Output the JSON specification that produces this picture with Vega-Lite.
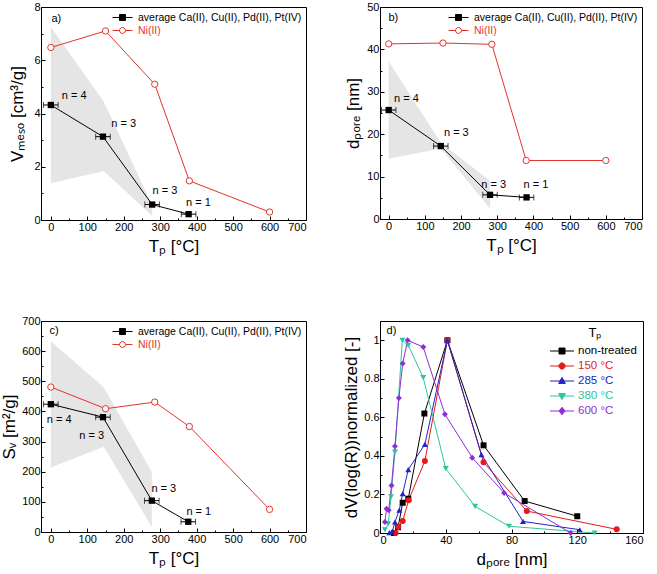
{
  "$schema": "https://vega.github.io/schema/vega-lite/v6.json",
  "padding": {"left": 0, "top": 0, "right": 5, "bottom": 5},
  "background": "white",
  "config": {
    "font": "Liberation Sans",
    "view": {"stroke": "black", "strokeWidth": 1},
    "axis": {"grid": false, "domainColor": "black", "tickColor": "black", "labelColor": "black", "titleColor": "black", "labelFontSize": 11, "titleFontSize": 17, "titleFontWeight": "normal", "tickSize": -4, "labelPadding": 5, "labelFont": "Liberation Sans", "titleFont": "Liberation Sans"},
    "axisBottom": {"titlePadding": 6},
    "legend": {"labelFont": "Liberation Sans", "labelFontSize": 11, "titleFont": "Liberation Sans", "labelLimit": 0},
    "text": {"font": "Liberation Sans", "fontSize": 11}
  },
  "resolve": {"scale": {"shape": "independent", "fill": "independent", "stroke": "independent"}},
  "datasets": {
    "avgA": [{"x": 0, "y": 4.32, "xl": -20, "xh": 20}, {"x": 143, "y": 3.13, "xl": 123, "xh": 163}, {"x": 278, "y": 0.58, "xl": 258, "xh": 298}, {"x": 378, "y": 0.22, "xl": 358, "xh": 398}],
    "niA": [{"x": 0, "y": 6.48}, {"x": 150, "y": 7.1}, {"x": 285, "y": 5.1}, {"x": 380, "y": 1.47}, {"x": 600, "y": 0.3}],
    "bandA": [{"x": 0, "u": 7.25, "l": 1.38}, {"x": 145, "u": 4.45, "l": 1.84}, {"x": 278, "u": 0.55, "l": 0.15}],
    "annA": [{"x": 64, "y": 4.65, "t": "n = 4"}, {"x": 200, "y": 3.59, "t": "n = 3"}, {"x": 313, "y": 1.1, "t": "n = 3"}, {"x": 405, "y": 0.63, "t": "n = 1"}, {"x": 15, "y": 7.56, "t": "a)"}],
    "avgB": [{"x": 0, "y": 25.7, "xl": -20, "xh": 20}, {"x": 144, "y": 17.2, "xl": 124, "xh": 164}, {"x": 280, "y": 5.7, "xl": 260, "xh": 300}, {"x": 381, "y": 5.1, "xl": 361, "xh": 401}],
    "niB": [{"x": 0, "y": 41.3}, {"x": 150, "y": 41.5}, {"x": 285, "y": 41.2}, {"x": 380, "y": 13.8}, {"x": 600, "y": 13.8}],
    "bandB": [{"x": 0, "u": 37.2, "l": 14.2}, {"x": 144, "u": 18.0, "l": 16.6}, {"x": 280, "u": 9.0, "l": 2.5}],
    "annB": [{"x": 49, "y": 28.2, "t": "n = 4"}, {"x": 187, "y": 20.2, "t": "n = 3"}, {"x": 290, "y": 8.0, "t": "n = 3"}, {"x": 407, "y": 8.0, "t": "n = 1"}, {"x": 13, "y": 47.4, "t": "b)"}],
    "avgC": [{"x": 0, "y": 424, "xl": -20, "xh": 20}, {"x": 143, "y": 381, "xl": 123, "xh": 163}, {"x": 277, "y": 104, "xl": 257, "xh": 297}, {"x": 377, "y": 34, "xl": 357, "xh": 397}],
    "niC": [{"x": 0, "y": 481}, {"x": 150, "y": 409}, {"x": 285, "y": 431}, {"x": 380, "y": 350}, {"x": 600, "y": 75}],
    "bandC": [{"x": 0, "u": 633, "l": 214}, {"x": 145, "u": 480, "l": 283}, {"x": 277, "u": 199, "l": 17}],
    "annC": [{"x": 23, "y": 370, "t": "n = 4"}, {"x": 112, "y": 319, "t": "n = 3"}, {"x": 310, "y": 144, "t": "n = 3"}, {"x": 406, "y": 66, "t": "n = 1"}, {"x": 9, "y": 668, "t": "c)"}],
    "psd": [
      {"s": "non-treated", "x": 8.5, "y": 0.0}, {"s": "non-treated", "x": 11, "y": 0.03}, {"s": "non-treated", "x": 13.8, "y": 0.157}, {"s": "non-treated", "x": 17.2, "y": 0.178}, {"s": "non-treated", "x": 27, "y": 0.62}, {"s": "non-treated", "x": 41, "y": 1.0}, {"s": "non-treated", "x": 63, "y": 0.455}, {"s": "non-treated", "x": 88, "y": 0.166}, {"s": "non-treated", "x": 120, "y": 0.087},
      {"s": "150 °C", "x": 9.5, "y": 0.0}, {"s": "150 °C", "x": 11.1, "y": 0.031}, {"s": "150 °C", "x": 13.8, "y": 0.062}, {"s": "150 °C", "x": 17.4, "y": 0.17}, {"s": "150 °C", "x": 27.3, "y": 0.374}, {"s": "150 °C", "x": 41, "y": 1.0}, {"s": "150 °C", "x": 63, "y": 0.367}, {"s": "150 °C", "x": 89.3, "y": 0.114}, {"s": "150 °C", "x": 144, "y": 0.019},
      {"s": "285 °C", "x": 5.7, "y": 0.002}, {"s": "285 °C", "x": 7.5, "y": 0.008}, {"s": "285 °C", "x": 9.1, "y": 0.057}, {"s": "285 °C", "x": 11.7, "y": 0.118}, {"s": "285 °C", "x": 13.8, "y": 0.204}, {"s": "285 °C", "x": 17.2, "y": 0.329}, {"s": "285 °C", "x": 27.3, "y": 0.46}, {"s": "285 °C", "x": 41, "y": 1.0}, {"s": "285 °C", "x": 61.7, "y": 0.407}, {"s": "285 °C", "x": 87, "y": 0.06}, {"s": "285 °C", "x": 121.5, "y": 0.017},
      {"s": "380 °C", "x": 3, "y": 0.017}, {"s": "380 °C", "x": 5, "y": 0.048}, {"s": "380 °C", "x": 6.7, "y": 0.187}, {"s": "380 °C", "x": 9.1, "y": 0.42}, {"s": "380 °C", "x": 13.6, "y": 1.0}, {"s": "380 °C", "x": 17.2, "y": 0.974}, {"s": "380 °C", "x": 26.3, "y": 0.806}, {"s": "380 °C", "x": 40, "y": 0.334}, {"s": "380 °C", "x": 57.9, "y": 0.138}, {"s": "380 °C", "x": 78.5, "y": 0.035}, {"s": "380 °C", "x": 130.6, "y": 0.0},
      {"s": "600 °C", "x": 3, "y": 0.057}, {"s": "600 °C", "x": 4, "y": 0.126}, {"s": "600 °C", "x": 5.3, "y": 0.118}, {"s": "600 °C", "x": 7, "y": 0.247}, {"s": "600 °C", "x": 9.1, "y": 0.45}, {"s": "600 °C", "x": 11.5, "y": 0.7}, {"s": "600 °C", "x": 13.8, "y": 0.879}, {"s": "600 °C", "x": 16.8, "y": 1.0}, {"s": "600 °C", "x": 26.3, "y": 0.965}, {"s": "600 °C", "x": 39.5, "y": 0.616}, {"s": "600 °C", "x": 56.1, "y": 0.391}, {"s": "600 °C", "x": 75.5, "y": 0.208}, {"s": "600 °C", "x": 116, "y": 0.0}
    ],
    "annD": [{"x": 7, "y": 1.05, "t": "d)"}]
  },
  "columns": 2,
  "bounds": "flush",
  "spacing": {"row": 101, "column": 74},
  "concat": [
    {
      "width": 265, "height": 213,
      "resolve": {"axis": {"x": "independent", "y": "independent"}},
      "layer": [
        {"data": {"name": "bandA"}, "mark": {"type": "area", "color": "#dcdcdc", "opacity": 0.75},
         "encoding": {"x": {"field": "x", "type": "quantitative", "scale": {"domain": [-27, 700], "nice": false}, "axis": {"orient": "bottom", "values": [50, 150, 250, 350, 450, 550, 650], "labels": false, "domain": false, "tickSize": -2, "title": null}},
                      "y": {"field": "u", "type": "quantitative", "scale": {"domain": [0, 8], "nice": false}, "axis": {"orient": "left", "values": [1, 3, 5, 7], "labels": false, "domain": false, "tickSize": -2, "title": null}},
                      "y2": {"field": "l"}}},
        {"data": {"name": "avgA"}, "mark": {"type": "line", "color": "black", "strokeWidth": 1},
         "encoding": {"x": {"field": "x", "type": "quantitative", "axis": {"orient": "bottom", "values": [0, 100, 200, 300, 400, 500, 600, 700], "title": "Tₚ [°C]"}},
                      "y": {"field": "y", "type": "quantitative", "axis": {"orient": "left", "values": [0, 2, 4, 6, 8], "title": "Vₘₑₛₒ [cm³/g]", "titlePadding": 7}}}},
        {"data": {"name": "avgA"}, "mark": {"type": "errorbar", "ticks": {"size": 6}, "color": "black"},
         "encoding": {"x": {"field": "xl", "type": "quantitative", "axis": null}, "x2": {"field": "xh"}, "y": {"field": "y", "type": "quantitative", "axis": null}}},
        {"data": {"name": "avgA"}, "mark": {"type": "point", "shape": "square", "filled": true, "color": "black", "size": 40, "opacity": 1},
         "encoding": {"x": {"field": "x", "type": "quantitative", "axis": null}, "y": {"field": "y", "type": "quantitative", "axis": null}}},
        {"data": {"name": "niA"}, "mark": {"type": "line", "color": "#e3342a", "strokeWidth": 1},
         "encoding": {"x": {"field": "x", "type": "quantitative", "axis": null}, "y": {"field": "y", "type": "quantitative", "axis": null}}},
        {"data": {"name": "niA"}, "mark": {"type": "point", "shape": "circle", "fill": "white", "stroke": "#e3342a", "strokeWidth": 1, "size": 40, "opacity": 1, "filled": false},
         "encoding": {"x": {"field": "x", "type": "quantitative", "axis": null}, "y": {"field": "y", "type": "quantitative", "axis": null}}},
        {"data": {"name": "annA"}, "mark": {"type": "text", "fontSize": 11, "color": "black"},
         "encoding": {"x": {"field": "x", "type": "quantitative", "axis": null}, "y": {"field": "y", "type": "quantitative", "axis": null}, "text": {"field": "t"}}},
        {"data": {"values": []}, "mark": {"type": "point", "opacity": 1},
         "encoding": {
           "shape": {"field": "s", "type": "nominal", "scale": {"domain": ["average Ca(II), Cu(II), Pd(II), Pt(IV)", "Ni(II)"], "range": ["M-1.67,0L1.67,0M-0.5,-0.5L0.5,-0.5L0.5,0.5L-0.5,0.5Z", "M-1.67,0L-0.5,0M0.5,0L1.67,0M0.5,0L0.43,0.25L0.25,0.43L0,0.5L-0.25,0.43L-0.43,0.25L-0.5,0L-0.43,-0.25L-0.25,-0.43L0,-0.5L0.25,-0.43L0.43,-0.25Z"]},
                     "legend": {"title": null, "orient": "top-right", "offset": 4, "padding": 0, "symbolSize": 144, "symbolStrokeWidth": 1, "labelFontSize": 10.5, "rowPadding": 1, "labelOffset": 9, "labelColor": {"expr": "datum.value == 'Ni(II)' ? '#e3342a' : 'black'"}}},
           "fill": {"field": "s", "type": "nominal", "scale": {"domain": ["average Ca(II), Cu(II), Pd(II), Pt(IV)", "Ni(II)"], "range": ["black", "white"]}, "legend": {"title": null, "orient": "top-right", "offset": 4, "padding": 0, "symbolSize": 144, "symbolStrokeWidth": 1, "labelFontSize": 10.5, "rowPadding": 1, "labelOffset": 9, "labelColor": {"expr": "datum.value == 'Ni(II)' ? '#e3342a' : 'black'"}}},
           "stroke": {"field": "s", "type": "nominal", "scale": {"domain": ["average Ca(II), Cu(II), Pd(II), Pt(IV)", "Ni(II)"], "range": ["black", "#e3342a"]}, "legend": {"title": null, "orient": "top-right", "offset": 4, "padding": 0, "symbolSize": 144, "symbolStrokeWidth": 1, "labelFontSize": 10.5, "rowPadding": 1, "labelOffset": 9, "labelColor": {"expr": "datum.value == 'Ni(II)' ? '#e3342a' : 'black'"}}}
         }}
      ]
    },
    {
      "width": 262, "height": 212,
      "resolve": {"axis": {"x": "independent", "y": "independent"}},
      "layer": [
        {"data": {"name": "bandB"}, "mark": {"type": "area", "color": "#dcdcdc", "opacity": 0.75},
         "encoding": {"x": {"field": "x", "type": "quantitative", "scale": {"domain": [-24, 700], "nice": false}, "axis": {"orient": "bottom", "values": [50, 150, 250, 350, 450, 550, 650], "labels": false, "domain": false, "tickSize": -2, "title": null}},
                      "y": {"field": "u", "type": "quantitative", "scale": {"domain": [0, 50], "nice": false}, "axis": {"orient": "left", "values": [5, 15, 25, 35, 45], "labels": false, "domain": false, "tickSize": -2, "title": null}},
                      "y2": {"field": "l"}}},
        {"data": {"name": "avgB"}, "mark": {"type": "line", "color": "black", "strokeWidth": 1},
         "encoding": {"x": {"field": "x", "type": "quantitative", "axis": {"orient": "bottom", "values": [0, 100, 200, 300, 400, 500, 600, 700], "title": "Tₚ [°C]"}},
                      "y": {"field": "y", "type": "quantitative", "axis": {"orient": "left", "values": [0, 10, 20, 30, 40, 50], "title": "dₚₒᵣₑ [nm]", "titlePadding": 4}}}},
        {"data": {"name": "avgB"}, "mark": {"type": "errorbar", "ticks": {"size": 6}, "color": "black"},
         "encoding": {"x": {"field": "xl", "type": "quantitative", "axis": null}, "x2": {"field": "xh"}, "y": {"field": "y", "type": "quantitative", "axis": null}}},
        {"data": {"name": "avgB"}, "mark": {"type": "point", "shape": "square", "filled": true, "color": "black", "size": 40, "opacity": 1},
         "encoding": {"x": {"field": "x", "type": "quantitative", "axis": null}, "y": {"field": "y", "type": "quantitative", "axis": null}}},
        {"data": {"name": "niB"}, "mark": {"type": "line", "color": "#e3342a", "strokeWidth": 1},
         "encoding": {"x": {"field": "x", "type": "quantitative", "axis": null}, "y": {"field": "y", "type": "quantitative", "axis": null}}},
        {"data": {"name": "niB"}, "mark": {"type": "point", "shape": "circle", "fill": "white", "stroke": "#e3342a", "strokeWidth": 1, "size": 40, "opacity": 1, "filled": false},
         "encoding": {"x": {"field": "x", "type": "quantitative", "axis": null}, "y": {"field": "y", "type": "quantitative", "axis": null}}},
        {"data": {"name": "annB"}, "mark": {"type": "text", "fontSize": 11, "color": "black"},
         "encoding": {"x": {"field": "x", "type": "quantitative", "axis": null}, "y": {"field": "y", "type": "quantitative", "axis": null}, "text": {"field": "t"}}},
        {"data": {"values": []}, "mark": {"type": "point", "opacity": 1},
         "encoding": {
           "shape": {"field": "s", "type": "nominal", "scale": {"domain": ["average Ca(II), Cu(II), Pd(II), Pt(IV)", "Ni(II)"], "range": ["M-1.67,0L1.67,0M-0.5,-0.5L0.5,-0.5L0.5,0.5L-0.5,0.5Z", "M-1.67,0L-0.5,0M0.5,0L1.67,0M0.5,0L0.43,0.25L0.25,0.43L0,0.5L-0.25,0.43L-0.43,0.25L-0.5,0L-0.43,-0.25L-0.25,-0.43L0,-0.5L0.25,-0.43L0.43,-0.25Z"]},
                     "legend": {"title": null, "orient": "top-right", "offset": 4, "padding": 0, "symbolSize": 144, "symbolStrokeWidth": 1, "labelFontSize": 10.5, "rowPadding": 1, "labelOffset": 9, "labelColor": {"expr": "datum.value == 'Ni(II)' ? '#e3342a' : 'black'"}}},
           "fill": {"field": "s", "type": "nominal", "scale": {"domain": ["average Ca(II), Cu(II), Pd(II), Pt(IV)", "Ni(II)"], "range": ["black", "white"]}, "legend": {"title": null, "orient": "top-right", "offset": 4, "padding": 0, "symbolSize": 144, "symbolStrokeWidth": 1, "labelFontSize": 10.5, "rowPadding": 1, "labelOffset": 9, "labelColor": {"expr": "datum.value == 'Ni(II)' ? '#e3342a' : 'black'"}}},
           "stroke": {"field": "s", "type": "nominal", "scale": {"domain": ["average Ca(II), Cu(II), Pd(II), Pt(IV)", "Ni(II)"], "range": ["black", "#e3342a"]}, "legend": {"title": null, "orient": "top-right", "offset": 4, "padding": 0, "symbolSize": 144, "symbolStrokeWidth": 1, "labelFontSize": 10.5, "rowPadding": 1, "labelOffset": 9, "labelColor": {"expr": "datum.value == 'Ni(II)' ? '#e3342a' : 'black'"}}}
         }}
      ]
    },
    {
      "width": 265, "height": 211,
      "resolve": {"axis": {"x": "independent", "y": "independent"}},
      "layer": [
        {"data": {"name": "bandC"}, "mark": {"type": "area", "color": "#dcdcdc", "opacity": 0.75},
         "encoding": {"x": {"field": "x", "type": "quantitative", "scale": {"domain": [-27, 700], "nice": false}, "axis": {"orient": "bottom", "values": [50, 150, 250, 350, 450, 550, 650], "labels": false, "domain": false, "tickSize": -2, "title": null}},
                      "y": {"field": "u", "type": "quantitative", "scale": {"domain": [0, 700], "nice": false}, "axis": {"orient": "left", "values": [50, 150, 250, 350, 450, 550, 650], "labels": false, "domain": false, "tickSize": -2, "title": null}},
                      "y2": {"field": "l"}}},
        {"data": {"name": "avgC"}, "mark": {"type": "line", "color": "black", "strokeWidth": 1},
         "encoding": {"x": {"field": "x", "type": "quantitative", "axis": {"orient": "bottom", "values": [0, 100, 200, 300, 400, 500, 600, 700], "title": "Tₚ [°C]"}},
                      "y": {"field": "y", "type": "quantitative", "axis": {"orient": "left", "values": [0, 100, 200, 300, 400, 500, 600, 700], "title": "Sᵥ [m²/g]", "titlePadding": 3}}}},
        {"data": {"name": "avgC"}, "mark": {"type": "errorbar", "ticks": {"size": 6}, "color": "black"},
         "encoding": {"x": {"field": "xl", "type": "quantitative", "axis": null}, "x2": {"field": "xh"}, "y": {"field": "y", "type": "quantitative", "axis": null}}},
        {"data": {"name": "avgC"}, "mark": {"type": "point", "shape": "square", "filled": true, "color": "black", "size": 40, "opacity": 1},
         "encoding": {"x": {"field": "x", "type": "quantitative", "axis": null}, "y": {"field": "y", "type": "quantitative", "axis": null}}},
        {"data": {"name": "niC"}, "mark": {"type": "line", "color": "#e3342a", "strokeWidth": 1},
         "encoding": {"x": {"field": "x", "type": "quantitative", "axis": null}, "y": {"field": "y", "type": "quantitative", "axis": null}}},
        {"data": {"name": "niC"}, "mark": {"type": "point", "shape": "circle", "fill": "white", "stroke": "#e3342a", "strokeWidth": 1, "size": 40, "opacity": 1, "filled": false},
         "encoding": {"x": {"field": "x", "type": "quantitative", "axis": null}, "y": {"field": "y", "type": "quantitative", "axis": null}}},
        {"data": {"name": "annC"}, "mark": {"type": "text", "fontSize": 11, "color": "black"},
         "encoding": {"x": {"field": "x", "type": "quantitative", "axis": null}, "y": {"field": "y", "type": "quantitative", "axis": null}, "text": {"field": "t"}}},
        {"data": {"values": []}, "mark": {"type": "point", "opacity": 1},
         "encoding": {
           "shape": {"field": "s", "type": "nominal", "scale": {"domain": ["average Ca(II), Cu(II), Pd(II), Pt(IV)", "Ni(II)"], "range": ["M-1.67,0L1.67,0M-0.5,-0.5L0.5,-0.5L0.5,0.5L-0.5,0.5Z", "M-1.67,0L-0.5,0M0.5,0L1.67,0M0.5,0L0.43,0.25L0.25,0.43L0,0.5L-0.25,0.43L-0.43,0.25L-0.5,0L-0.43,-0.25L-0.25,-0.43L0,-0.5L0.25,-0.43L0.43,-0.25Z"]},
                     "legend": {"title": null, "orient": "top-right", "offset": 4, "padding": 0, "symbolSize": 144, "symbolStrokeWidth": 1, "labelFontSize": 10.5, "rowPadding": 1, "labelOffset": 9, "labelColor": {"expr": "datum.value == 'Ni(II)' ? '#e3342a' : 'black'"}}},
           "fill": {"field": "s", "type": "nominal", "scale": {"domain": ["average Ca(II), Cu(II), Pd(II), Pt(IV)", "Ni(II)"], "range": ["black", "white"]}, "legend": {"title": null, "orient": "top-right", "offset": 4, "padding": 0, "symbolSize": 144, "symbolStrokeWidth": 1, "labelFontSize": 10.5, "rowPadding": 1, "labelOffset": 9, "labelColor": {"expr": "datum.value == 'Ni(II)' ? '#e3342a' : 'black'"}}},
           "stroke": {"field": "s", "type": "nominal", "scale": {"domain": ["average Ca(II), Cu(II), Pd(II), Pt(IV)", "Ni(II)"], "range": ["black", "#e3342a"]}, "legend": {"title": null, "orient": "top-right", "offset": 4, "padding": 0, "symbolSize": 144, "symbolStrokeWidth": 1, "labelFontSize": 10.5, "rowPadding": 1, "labelOffset": 9, "labelColor": {"expr": "datum.value == 'Ni(II)' ? '#e3342a' : 'black'"}}}
         }}
      ]
    },
    {
      "width": 263, "height": 212,
      "resolve": {"axis": {"x": "independent", "y": "independent"}, "scale": {"shape": "independent", "fill": "independent", "stroke": "independent"}},
      "layer": [
        {"data": {"name": "psd"}, "mark": {"type": "line", "strokeWidth": 1},
         "encoding": {"x": {"field": "x", "type": "quantitative", "scale": {"domain": [0, 160], "nice": false}, "axis": {"orient": "bottom", "values": [0, 40, 80, 120, 160], "title": "dₚₒᵣₑ [nm]"}},
                      "y": {"field": "y", "type": "quantitative", "scale": {"domain": [0, 1.1], "nice": false}, "axis": {"orient": "left", "values": [0, 0.2, 0.4, 0.6, 0.8, 1], "format": "~g", "title": "dV(log(R))normalized [-]", "titlePadding": 3}},
                      "stroke": {"field": "s", "type": "nominal", "scale": {"domain": ["non-treated", "150 °C", "285 °C", "380 °C", "600 °C"], "range": ["black", "#e41a1c", "#2222c8", "#2ec4a0", "#8e2ed6"]}, "legend": null}}},
        {"data": {"name": "psd"}, "mark": {"type": "point", "filled": true, "size": 36, "opacity": 1},
         "encoding": {"x": {"field": "x", "type": "quantitative", "axis": {"orient": "bottom", "values": [20, 60, 100, 140], "labels": false, "domain": false, "tickSize": -2, "title": null}},
                      "y": {"field": "y", "type": "quantitative", "axis": {"orient": "left", "values": [0.1, 0.3, 0.5, 0.7, 0.9], "labels": false, "domain": false, "tickSize": -2, "title": null}},
                      "fill": {"field": "s", "type": "nominal", "scale": {"domain": ["non-treated", "150 °C", "285 °C", "380 °C", "600 °C"], "range": ["black", "#e41a1c", "#2222c8", "#2ec4a0", "#8e2ed6"]}, "legend": null},
                      "shape": {"field": "s", "type": "nominal", "scale": {"domain": ["non-treated", "150 °C", "285 °C", "380 °C", "600 °C"], "range": ["square", "circle", "triangle-up", "triangle-down", "diamond"]}, "legend": null}}},
        {"data": {"name": "annD"}, "mark": {"type": "text", "fontSize": 11, "color": "black"},
         "encoding": {"x": {"field": "x", "type": "quantitative", "axis": null}, "y": {"field": "y", "type": "quantitative", "axis": null}, "text": {"field": "t"}}},
        {"data": {"values": []}, "mark": {"type": "point", "opacity": 1},
         "encoding": {
           "shape": {"field": "s", "type": "nominal", "scale": {"domain": ["non-treated", "150 °C", "285 °C", "380 °C", "600 °C"], "range": ["M-1.6,0L1.6,0M-0.4,-0.4L0.4,-0.4L0.4,0.4L-0.4,0.4Z", "M-1.6,0L1.6,0M0.42,0L0.36,0.21L0.21,0.36L0,0.42L-0.21,0.36L-0.36,0.21L-0.42,0L-0.36,-0.21L-0.21,-0.36L0,-0.42L0.21,-0.36L0.36,-0.21Z", "M-1.6,0L1.6,0M0,-0.48L0.45,0.32L-0.45,0.32Z", "M-1.6,0L1.6,0M0,0.48L0.45,-0.32L-0.45,-0.32Z", "M-1.6,0L1.6,0M0,-0.5L0.4,0L0,0.5L-0.4,0Z"]},
                     "legend": {"title": "Tₚ", "titleFontSize": 13, "titleFontWeight": "normal", "titleAnchor": "middle", "orient": "top-right", "offset": 6, "padding": 0, "symbolSize": 225, "symbolStrokeWidth": 1, "labelFontSize": 11.5, "rowPadding": 1, "labelOffset": 8, "titlePadding": 3,
                                "labelColor": {"expr": "datum.value == 'non-treated' ? 'black' : datum.value == '150 °C' ? '#e41a1c' : datum.value == '285 °C' ? '#2222c8' : datum.value == '380 °C' ? '#2ec4a0' : '#8e2ed6'"}}},
           "fill": {"field": "s", "type": "nominal", "scale": {"domain": ["non-treated", "150 °C", "285 °C", "380 °C", "600 °C"], "range": ["black", "#e41a1c", "#2222c8", "#2ec4a0", "#8e2ed6"]},
                    "legend": {"title": "Tₚ", "titleFontSize": 13, "titleFontWeight": "normal", "titleAnchor": "middle", "orient": "top-right", "offset": 6, "padding": 0, "symbolSize": 225, "symbolStrokeWidth": 1, "labelFontSize": 11.5, "rowPadding": 1, "labelOffset": 8, "titlePadding": 3,
                               "labelColor": {"expr": "datum.value == 'non-treated' ? 'black' : datum.value == '150 °C' ? '#e41a1c' : datum.value == '285 °C' ? '#2222c8' : datum.value == '380 °C' ? '#2ec4a0' : '#8e2ed6'"}}},
           "stroke": {"field": "s", "type": "nominal", "scale": {"domain": ["non-treated", "150 °C", "285 °C", "380 °C", "600 °C"], "range": ["black", "#e41a1c", "#2222c8", "#2ec4a0", "#8e2ed6"]},
                      "legend": {"title": "Tₚ", "titleFontSize": 13, "titleFontWeight": "normal", "titleAnchor": "middle", "orient": "top-right", "offset": 6, "padding": 0, "symbolSize": 225, "symbolStrokeWidth": 1, "labelFontSize": 11.5, "rowPadding": 1, "labelOffset": 8, "titlePadding": 3,
                                 "labelColor": {"expr": "datum.value == 'non-treated' ? 'black' : datum.value == '150 °C' ? '#e41a1c' : datum.value == '285 °C' ? '#2222c8' : datum.value == '380 °C' ? '#2ec4a0' : '#8e2ed6'"}}}
         }}
      ]
    }
  ]
}
